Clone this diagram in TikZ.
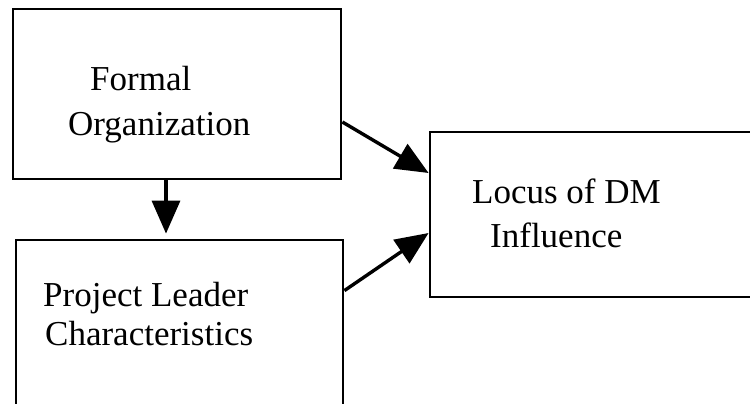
\documentclass[tikz,border=0pt]{standalone}
\usepackage{fontspec}
\setmainfont{Liberation Serif}
\usetikzlibrary{arrows.meta}
\begin{document}
\begin{tikzpicture}[x=1pt,y=-1pt,
  boxnode/.style={draw=black,line width=2.8pt,rectangle,inner sep=0pt},
  label/.style={anchor=base west,inner sep=0pt,font=\fontsize{35}{42}\selectfont},
  conn/.style={line width=3.4pt,-{Triangle[length=33pt,width=28pt]}}]
\useasboundingbox[fill=white] (0,0) rectangle (750,404);
\node[boxnode,minimum width=328pt,minimum height=170pt] (b1) at (177,94) {};
\node[boxnode,minimum width=327pt,minimum height=190pt] (b2) at (179.5,335) {};
\node[boxnode,minimum width=330pt,minimum height=165pt] (b3) at (595,214.5) {};
\node[label] (t1a) at (90,91) {Formal};
\node[label] (t1b) at (68,135) {Organization};
\node[label] (t2a) at (43,306) {Project Leader};
\node[label] (t2b) at (45,345) {Characteristics};
\node[label] (t3a) at (472,203) {Locus of DM};
\node[label] (t3b) at (490,247) {Influence};
\coordinate (a1s) at ([xshift=-11pt]b1.south);
\draw[conn,shorten >=5pt] (a1s) -- (a1s |- b2.north);
\draw[conn] ([yshift=-28pt]b1.east) -- ([yshift=41.5pt]b3.west);
\draw[conn] ([yshift=-52pt]b2.north east) -- ([yshift=-18.5pt]b3.west);
\end{tikzpicture}
\end{document}
